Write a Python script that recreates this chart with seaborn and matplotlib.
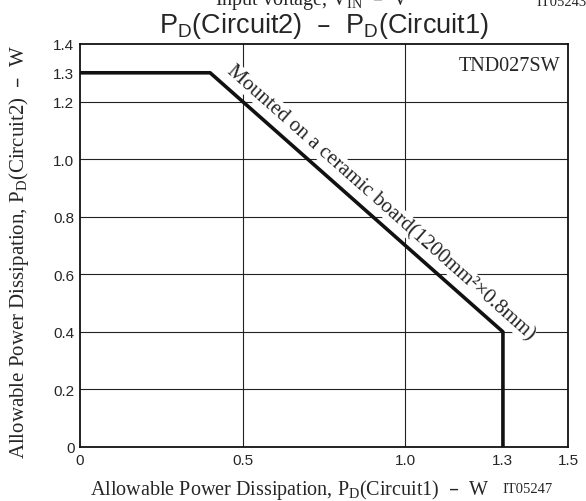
import matplotlib
matplotlib.use("Agg")
import matplotlib.pyplot as plt
import seaborn as sns
import pandas as pd
import numpy as np

# data
pd_circuit1 = [0.0, 0.4, 1.3, 1.3]
pd_circuit2 = [1.3, 1.3, 0.4, 0.0]
x_ticks = [0, 0.5, 1.0, 1.3, 1.5]
x_ticklabels = ["0", "0.5", "1.0", "1.3", "1.5"]
y_ticks = [0, 0.2, 0.4, 0.6, 0.8, 1.0, 1.2, 1.3, 1.4]
y_ticklabels = ["0", "0.2", "0.4", "0.6", "0.8", "1.0", "1.2", "1.3", "1.4"]
x_grid = [0.5, 1.0]
y_grid = [0.2, 0.4, 0.6, 0.8, 1.0, 1.2]

sns.set_style("white")
plt.rcParams["font.family"] = ["Liberation Serif", "DejaVu Serif"]

fig = plt.figure(figsize=(5.86, 5.02), dpi=100)
ax = fig.add_axes([80/586, 54/502, 488/586, 403/502])

df = pd.DataFrame({"x": pd_circuit1, "y": pd_circuit2})

for g in x_grid:
    ax.axvline(g, color="#222222", lw=0.8, zorder=1)
for g in y_grid:
    ax.axhline(g, color="#222222", lw=0.8, zorder=1)

sns.lineplot(data=df, x="x", y="y", sort=False, estimator=None, color="#111111",
             lw=2.6, ax=ax, zorder=3)

ax.set_xlim(0, 1.5)
ax.set_ylim(0, 1.4)
ax.set_xticks(x_ticks)
ax.set_xticklabels(x_ticklabels, family="Liberation Sans", fontsize=11)
ax.set_yticks(y_ticks)
ax.set_yticklabels(y_ticklabels, family="Liberation Sans", fontsize=11)
ax.tick_params(direction="in", length=0, pad=4)
for s in ax.spines.values():
    s.set_color("#111111")
    s.set_linewidth(1.3)

ax.set_xlabel(r"Allowable Power Dissipation, P$_{\mathregular{D}}$(Circuit1)  –  W",
              fontsize=14.5)
ax.xaxis.set_label_coords(0.43, -0.074)
ax.set_ylabel(r"Allowable Power Dissipation, P$_{\mathregular{D}}$(Circuit2)  –  W",
              fontsize=15)
ax.yaxis.set_label_coords(-0.1, 0.486)

ax.set_title(r"P$_{\mathregular{D}}$(Circuit2)  –  P$_{\mathregular{D}}$(Circuit1)",
             family="Liberation Sans", fontsize=19.5, pad=8.5)

ax.text(0.985, 0.97, "TND027SW", transform=ax.transAxes, ha="right", va="top",
        fontsize=14.5)

# rotated annotation along the line
p1 = ax.transData.transform((0.4, 1.3))
p2 = ax.transData.transform((1.3, 0.4))
ang = np.degrees(np.arctan2(p2[1]-p1[1], p2[0]-p1[0]))
ax.text(0.923, 0.851, "Mounted on a ceramic board(1200mm²×0.8mm)", rotation=ang,
        rotation_mode="anchor", ha="center", va="center", fontsize=15,
        bbox=dict(facecolor="white", edgecolor="none", pad=0.5), zorder=2)

fig.text(528/586, 1 - 490/502, "IT05247", fontsize=10.5, ha="center", va="center")
fig.text(562/586, 1 - 3/502, "IT05243", fontsize=10.5, ha="center", va="center")
fig.text(312/586, 1 - 1/502, r"Input voltage, V$_{\mathregular{IN}}$  –  V", fontsize=14.5,
         ha="center", va="center")

fig.savefig("out.png", dpi=100)
